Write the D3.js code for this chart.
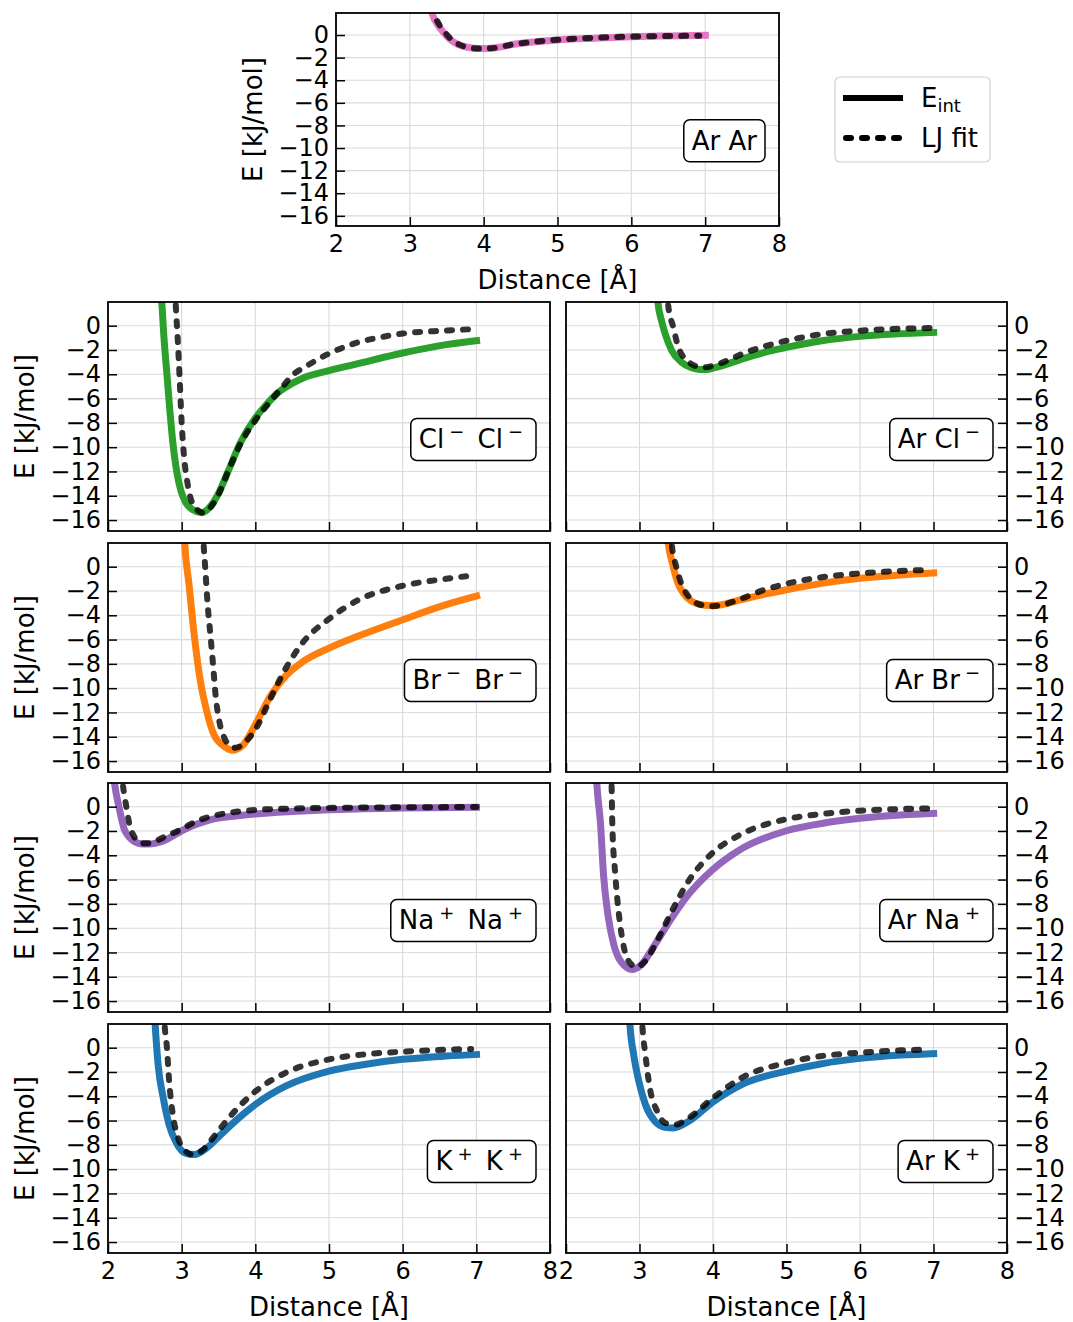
<!DOCTYPE html>
<html>
<head>
<meta charset="utf-8">
<script src="https://cdn.jsdelivr.net/npm/d3@7"></script>
<style>
  body { margin: 0; background: #fff; }
  svg { font-family: "DejaVu Sans", sans-serif; }
  text { white-space: pre; }
</style>
</head>
<body>
<svg id="fig" width="1073" height="1322"></svg>
<script>
// tick values
var distTicks = [2, 3, 4, 5, 6, 7, 8];
var energyTicks = [0, -2, -4, -6, -8, -10, -12, -14, -16];

// [distance in Å, energy in kJ/mol]
var arArEint = [[3.28,2.6],[3.30,1.98],[3.38,0.9],[3.46,0.2],[3.55,-0.4],[3.65,-0.83],[3.78,-1.08],[3.94,-1.2],[4.1,-1.17],[4.43,-0.8],[5.0,-0.44],[5.5,-0.28],[6.0,-0.15],[6.5,-0.08],[7.05,-0.03]];
var arArLJ   = [[3.31,2.6],[3.33,1.98],[3.4,0.9],[3.48,0.2],[3.57,-0.45],[3.67,-0.85],[3.8,-1.1],[3.95,-1.2],[4.1,-1.17],[4.43,-0.8],[5.0,-0.42],[5.5,-0.24],[6.0,-0.14],[6.5,-0.09],[6.92,-0.06]];

var clClEint = [[2.715,3],[2.73,1.95],[2.76,-1],[2.80,-4],[2.84,-7],[2.88,-9.6],[2.93,-11.9],[2.99,-13.6],[3.06,-14.6],[3.15,-15.15],[3.27,-15.4],[3.4,-14.8],[3.5,-13.8],[3.63,-12.0],[3.8,-9.6],[4.0,-7.6],[4.15,-6.5],[4.31,-5.5],[4.5,-4.75],[4.65,-4.3],[5.0,-3.7],[5.38,-3.15],[6.0,-2.25],[6.59,-1.56],[7.05,-1.2]];
var clClLJ   = [[2.91,3],[2.92,1.7],[2.95,-1.5],[2.97,-4],[3.0,-8],[3.03,-10.6],[3.08,-13],[3.15,-14.7],[3.22,-15.2],[3.3,-15.4],[3.4,-14.9],[3.5,-13.9],[3.63,-12.0],[3.8,-9.7],[4.0,-7.8],[4.18,-6.4],[4.36,-5.1],[4.5,-4.1],[4.7,-3.3],[5.0,-2.3],[5.38,-1.4],[5.7,-0.95],[6.0,-0.65],[6.59,-0.4],[7.0,-0.27]];

var arClEint = [[3.24,3],[3.25,1.95],[3.3,0.4],[3.35,-0.69],[3.44,-2.06],[3.57,-3.0],[3.7,-3.45],[3.82,-3.6],[3.92,-3.6],[4.0,-3.5],[4.2,-3.15],[4.39,-2.75],[4.7,-2.2],[5.0,-1.79],[5.48,-1.24],[6.0,-0.88],[6.47,-0.69],[7.05,-0.55]];
var arClLJ   = [[3.38,3],[3.39,1.7],[3.46,-0.14],[3.53,-1.8],[3.6,-2.6],[3.67,-3.0],[3.78,-3.35],[3.89,-3.43],[4.0,-3.3],[4.2,-2.85],[4.39,-2.34],[4.7,-1.7],[5.0,-1.24],[5.48,-0.69],[6.0,-0.41],[6.47,-0.27],[6.97,-0.19]];

var brBrEint = [[3.03,3],[3.04,1.95],[3.10,-1.48],[3.17,-5.6],[3.24,-8.9],[3.34,-11.9],[3.44,-13.85],[3.56,-14.7],[3.68,-15.1],[3.83,-14.7],[4.0,-13.0],[4.21,-10.6],[4.41,-9.0],[4.65,-7.8],[5.0,-6.7],[5.38,-5.75],[6.0,-4.37],[6.59,-3.13],[7.05,-2.35]];
var brBrLJ   = [[3.29,3],[3.30,1.7],[3.32,-0.1],[3.35,-2.9],[3.39,-5.6],[3.43,-8.35],[3.46,-10.55],[3.51,-12.7],[3.58,-14.1],[3.65,-14.7],[3.73,-14.9],[3.87,-14.4],[4.0,-13.4],[4.21,-10.8],[4.41,-8.4],[4.65,-6.2],[5.0,-4.3],[5.38,-2.8],[6.0,-1.57],[6.59,-1.0],[6.98,-0.7]];

var arBrEint = [[3.37,3],[3.39,1.95],[3.45,0.2],[3.52,-1.3],[3.6,-2.2],[3.7,-2.8],[3.82,-3.1],[3.95,-3.2],[4.1,-3.15],[4.3,-2.85],[4.6,-2.4],[5.0,-1.9],[5.5,-1.35],[6.0,-0.95],[6.5,-0.7],[7.05,-0.5]];
var arBrLJ   = [[3.43,3],[3.44,1.8],[3.5,0.0],[3.57,-1.4],[3.65,-2.3],[3.75,-2.9],[3.88,-3.2],[4.0,-3.25],[4.15,-3.1],[4.4,-2.6],[4.7,-1.9],[5.0,-1.4],[5.5,-0.85],[6.0,-0.55],[6.5,-0.36],[6.95,-0.26]];

var naNaEint = [[2.07,3],[2.09,1.9],[2.15,-0.05],[2.22,-1.84],[2.28,-2.45],[2.34,-2.8],[2.47,-3.08],[2.56,-3.08],[2.66,-2.98],[2.76,-2.8],[3.0,-1.98],[3.2,-1.45],[3.44,-1.0],[3.7,-0.78],[4.0,-0.6],[4.5,-0.4],[5.0,-0.25],[6.0,-0.11],[7.05,-0.05]];
var naNaLJ   = [[2.18,3],[2.2,1.9],[2.25,-0.05],[2.30,-1.7],[2.35,-2.4],[2.39,-2.8],[2.47,-3.0],[2.56,-3.0],[2.66,-2.8],[2.76,-2.5],[3.0,-1.84],[3.2,-1.2],[3.44,-0.74],[3.7,-0.45],[4.0,-0.27],[4.5,-0.15],[5.0,-0.1],[6.0,-0.05],[7.0,-0.03]];

var arNaEint = [[2.41,3],[2.42,1.87],[2.47,-1.43],[2.51,-5.56],[2.57,-8.87],[2.65,-11.35],[2.76,-12.86],[2.9,-13.4],[3.01,-13.1],[3.21,-11.35],[3.44,-9.15],[3.67,-7.2],[4.0,-5.15],[4.34,-3.64],[5.0,-1.98],[5.48,-1.38],[6.0,-0.96],[6.56,-0.69],[7.05,-0.55]];
var arNaLJ   = [[2.61,3],[2.62,1.87],[2.63,-1.43],[2.67,-5.56],[2.72,-8.87],[2.78,-11.35],[2.87,-12.86],[2.96,-13.2],[3.08,-12.7],[3.26,-10.8],[3.44,-8.6],[3.67,-6.1],[4.0,-3.77],[4.34,-2.4],[5.0,-1.02],[5.48,-0.6],[6.0,-0.33],[6.56,-0.19],[6.97,-0.14]];

var kKEint = [[2.63,3],[2.64,1.93],[2.68,-1.38],[2.75,-4.13],[2.83,-6.34],[2.93,-7.85],[3.05,-8.68],[3.17,-8.8],[3.34,-8.26],[3.53,-7.16],[3.83,-5.5],[4.0,-4.68],[4.41,-3.17],[5.0,-1.93],[5.48,-1.38],[6.0,-0.96],[6.59,-0.69],[7.05,-0.55]];
var kKLJ   = [[2.76,3],[2.77,1.8],[2.80,0],[2.83,-2.75],[2.88,-5.5],[2.95,-7.4],[3.05,-8.5],[3.15,-8.8],[3.29,-8.4],[3.44,-7.3],[3.68,-5.5],[4.0,-3.6],[4.41,-2.07],[5.0,-0.96],[5.48,-0.55],[6.0,-0.33],[6.59,-0.17],[6.93,-0.11]];

var arKEint = [[2.86,3],[2.87,1.93],[2.92,-0.55],[2.99,-2.75],[3.08,-4.68],[3.21,-6.06],[3.35,-6.56],[3.46,-6.61],[3.67,-6.06],[4.0,-4.46],[4.39,-3.03],[5.0,-1.93],[5.48,-1.32],[6.0,-0.88],[6.56,-0.61],[7.05,-0.47]];
var arKLJ   = [[3.03,3],[3.04,1.8],[3.08,-0.55],[3.14,-3.3],[3.24,-5.23],[3.35,-6.2],[3.48,-6.34],[3.67,-5.78],[4.0,-4.13],[4.39,-2.48],[5.0,-1.24],[5.48,-0.69],[6.0,-0.41],[6.56,-0.22],[6.88,-0.17]];

// pair labels: [text, superscript?]
var arArLabel = [["Ar Ar", 0]];
var clClLabel = [["Cl", 0], ["\u2212", 1], [" Cl", 0], ["\u2212", 1]];
var arClLabel = [["Ar Cl", 0], ["\u2212", 1]];
var brBrLabel = [["Br", 0], ["\u2212", 1], [" Br", 0], ["\u2212", 1]];
var arBrLabel = [["Ar Br", 0], ["\u2212", 1]];
var naNaLabel = [["Na", 0], ["+", 1], [" Na", 0], ["+", 1]];
var arNaLabel = [["Ar Na", 0], ["+", 1]];
var kKLabel   = [["K", 0], ["+", 1], [" K", 0], ["+", 1]];
var arKLabel  = [["Ar K", 0], ["+", 1]];

//////////////////////////////////////////////////////////////////////////////
// layout

var svg = d3.select("#fig");
var tickFont = 24, labelFont = 26, supFont = 18;

var leftX = [108, 550], rightX = [566, 1007];
var rows = [[302, 531], [543, 772], [783, 1012], [1024, 1253]];

var panels = [
    { xr: [336, 779], yr: [13, 226], eint: arArEint, lj: arArLJ, color: "#e377c2", label: arArLabel, side: "left", xlabels: true },
    { xr: leftX,  yr: rows[0], eint: clClEint, lj: clClLJ, color: "#2ca02c", label: clClLabel, side: "left" },
    { xr: rightX, yr: rows[0], eint: arClEint, lj: arClLJ, color: "#2ca02c", label: arClLabel, side: "right" },
    { xr: leftX,  yr: rows[1], eint: brBrEint, lj: brBrLJ, color: "#ff7f0e", label: brBrLabel, side: "left" },
    { xr: rightX, yr: rows[1], eint: arBrEint, lj: arBrLJ, color: "#ff7f0e", label: arBrLabel, side: "right" },
    { xr: leftX,  yr: rows[2], eint: naNaEint, lj: naNaLJ, color: "#9467bd", label: naNaLabel, side: "left" },
    { xr: rightX, yr: rows[2], eint: arNaEint, lj: arNaLJ, color: "#9467bd", label: arNaLabel, side: "right" },
    { xr: leftX,  yr: rows[3], eint: kKEint, lj: kKLJ, color: "#1f77b4", label: kKLabel, side: "left", xlabels: true },
    { xr: rightX, yr: rows[3], eint: arKEint, lj: arKLJ, color: "#1f77b4", label: arKLabel, side: "right", xlabels: true }
];

// mathtext-like label: superscripts get a bit of room on both sides
function addLabel(g, parts, x, y)
{
    var t = g.append("text")
        .attr("x", x).attr("y", y)
        .attr("text-anchor", "end")
        .style("font-size", labelFont + "px");
    var up = false;
    parts.forEach(function(p) {
        var s = t.append("tspan").text(p[0]);
        if (p[1]) {
            s.attr("dy", -10).attr("dx", 5).style("font-size", supFont + "px");
            up = true;
        } else if (up) {
            s.attr("dy", 10).attr("dx", 5);
            up = false;
        }
    });
    return t;
}

panels.forEach(function(p, i) {
    var x = d3.scaleLinear().domain([2, 8]).range(p.xr);
    var y = d3.scaleLinear().domain([-16.9, 1.95]).range([p.yr[1], p.yr[0]]);
    var w = p.xr[1] - p.xr[0], h = p.yr[1] - p.yr[0];

    var g = svg.append("g");

    g.append("clipPath").attr("id", "clip" + i)
        .append("rect").attr("x", p.xr[0]).attr("y", p.yr[0]).attr("width", w).attr("height", h);

    // grid
    g.append("g").selectAll("line").data(distTicks).enter().append("line")
        .attr("x1", function(d) { return x(d); }).attr("x2", function(d) { return x(d); })
        .attr("y1", p.yr[0]).attr("y2", p.yr[1])
        .attr("stroke", "#dadada").attr("stroke-width", 1.1);
    g.append("g").selectAll("line").data(energyTicks).enter().append("line")
        .attr("y1", function(d) { return y(d); }).attr("y2", function(d) { return y(d); })
        .attr("x1", p.xr[0]).attr("x2", p.xr[1])
        .attr("stroke", "#dadada").attr("stroke-width", 1.1);

    var line = d3.line()
        .x(function(d) { return x(d[0]); })
        .y(function(d) { return y(d[1]); })
        .curve(d3.curveMonotoneX);

    var curves = g.append("g").attr("clip-path", "url(#clip" + i + ")");
    curves.append("path").datum(p.eint)
        .attr("d", line).attr("fill", "none")
        .attr("stroke", p.color).attr("stroke-width", 7);
    curves.append("path").datum(p.lj)
        .attr("d", line).attr("fill", "none")
        .attr("stroke", "#000").attr("stroke-opacity", 0.8)
        .attr("stroke-width", 6).attr("stroke-linecap", "round")
        .attr("stroke-dasharray", "5,11");

    // axes with inward ticks
    var xAxis = d3.axisBottom(x).tickValues(distTicks).tickSize(-9).tickPadding(9)
        .tickFormat(p.xlabels ? d3.format("d") : "");
    var gx = g.append("g").attr("transform", "translate(0," + p.yr[1] + ")").call(xAxis);

    var yAxis = p.side == "left"
        ? d3.axisLeft(y).tickValues(energyTicks).tickSize(-9).tickPadding(7)
        : d3.axisRight(y).tickValues(energyTicks).tickSize(-9).tickPadding(7);
    var gy = g.append("g")
        .attr("transform", "translate(" + (p.side == "left" ? p.xr[0] : p.xr[1]) + ",0)")
        .call(yAxis);

    [gx, gy].forEach(function(a) {
        a.select(".domain").remove();
        a.selectAll(".tick line").attr("stroke", "#000").attr("stroke-width", 1.5);
        a.selectAll(".tick text").attr("fill", "#000")
            .style("font-size", tickFont + "px").style("font-family", "DejaVu Sans");
    });

    // frame
    g.append("rect").attr("x", p.xr[0]).attr("y", p.yr[0]).attr("width", w).attr("height", h)
        .attr("fill", "none").attr("stroke", "#000").attr("stroke-width", 1.8);

    // pair label in a rounded box
    var cy = p.yr[0] + 0.6 * h;
    var endsSup = p.label[p.label.length - 1][1];
    var boxRight = p.xr[1] - 14;
    var t = addLabel(g, p.label, boxRight - 8 - (endsSup ? 5 : 0), cy + 9);
    var bb = t.node().getBBox();
    g.insert("rect", function() { return t.node(); })
        .attr("x", bb.x - 8).attr("y", cy - 21)
        .attr("width", boxRight - bb.x + 8).attr("height", 42)
        .attr("rx", 6).attr("fill", "#fff")
        .attr("stroke", "#000").attr("stroke-width", 1.5);

    // axis titles
    if (p.side == "left") {
        g.append("text")
            .attr("transform", "translate(" + (p.xr[0] - 74) + "," + (p.yr[0] + h / 2) + ") rotate(-90)")
            .attr("text-anchor", "middle")
            .style("font-size", labelFont + "px")
            .text("E [kJ/mol]");
    }
    if (p.xlabels) {
        g.append("text")
            .attr("x", p.xr[0] + w / 2).attr("y", p.yr[1] + 63)
            .attr("text-anchor", "middle")
            .style("font-size", labelFont + "px")
            .text("Distance [Å]");
    }
});

//////////////////////////////////////////////////////////////////////////////
// legend

var lg = svg.append("g");
lg.append("rect").attr("x", 835).attr("y", 77).attr("width", 155).attr("height", 85)
    .attr("rx", 5).attr("fill", "#fff").attr("stroke", "#d0d0d0").attr("stroke-width", 1.2);
lg.append("line").attr("x1", 843).attr("x2", 903).attr("y1", 98).attr("y2", 98)
    .attr("stroke", "#000").attr("stroke-width", 6);
lg.append("line").attr("x1", 846).attr("x2", 903).attr("y1", 138).attr("y2", 138)
    .attr("stroke", "#000").attr("stroke-width", 6).attr("stroke-linecap", "round")
    .attr("stroke-dasharray", "5,11");
var le = lg.append("text").attr("x", 921).attr("y", 107).style("font-size", labelFont + "px");
le.append("tspan").text("E");
le.append("tspan").attr("dy", 5).style("font-size", "18px").text("int");
lg.append("text").attr("x", 921).attr("y", 147).style("font-size", labelFont + "px").text("LJ fit");
</script>
</body>
</html>
